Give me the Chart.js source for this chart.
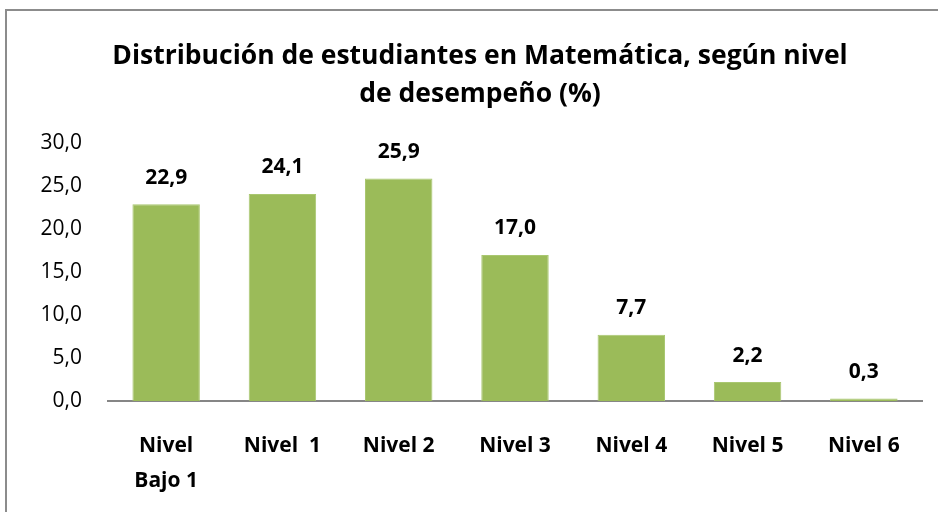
<!DOCTYPE html>
<html>
<head>
<meta charset="utf-8">
<script src="https://cdn.jsdelivr.net/npm/chart.js@4.4.1/dist/chart.umd.min.js"></script>
<style>
  html, body { margin: 0; padding: 0; background: #fff; }
  #wrap { position: relative; width: 938px; height: 512px; overflow: hidden; }
  #frame { position: absolute; left: 5px; top: 9px; width: 1000px; height: 600px;
           border-left: 2px solid #8c8c8c; border-top: 2px solid #8c8c8c; }
  canvas { position: absolute; left: 0; top: 0; }
</style>
</head>
<body>
<div id="wrap">
  <div id="frame"></div>
  <canvas id="chart" width="938" height="512"></canvas>
</div>
<script>
const niveles = [["Nivel", "Bajo 1"], "Nivel  1", "Nivel 2", "Nivel 3", "Nivel 4", "Nivel 5", "Nivel 6"];
const porcentajes = [22.9, 24.1, 25.9, 17.0, 7.7, 2.2, 0.3];
const tituloLineas = ["Distribución de estudiantes en Matemática, según nivel", "de desempeño (%)"];

const FONT = "'Open Sans', Lato, sans-serif";

function fmt(v)
{
  return v.toFixed(1).replace(".", ",");
}

// etiquetas de valor encima de cada barra
const barLabels = {
  id: "barLabels",
  afterDatasetsDraw(chart)
  {
    const ctx = chart.ctx;
    const meta = chart.getDatasetMeta(0);
    ctx.save();
    ctx.font = "bold 21px " + FONT;
    ctx.fillStyle = "#000";
    ctx.textAlign = "center";
    ctx.textBaseline = "bottom";
    meta.data.forEach((bar, i) =>
    {
      ctx.fillText(fmt(porcentajes[i]), bar.x, bar.y - 16);
    });
    ctx.restore();
  }
};

new Chart(document.getElementById("chart"),
{
  type: "bar",
  data:
  {
    labels: niveles,
    datasets: [
    {
      data: porcentajes,
      backgroundColor: "#9bbb59",
      borderColor: "#a9c770",
      borderWidth: 1,
      barPercentage: 0.58,
      categoryPercentage: 1
    }]
  },
  options:
  {
    responsive: false,
    animation: false,
    layout: { padding: { left: 38, right: 16, top: 28, bottom: 0 } },
    plugins:
    {
      legend: { display: false },
      tooltip: { enabled: false },
      title:
      {
        display: true,
        text: tituloLineas,
        color: "#000",
        font: { family: FONT, size: 26.5, weight: "bold", lineHeight: 1.42 },
        padding: { top: 10, bottom: 30 }
      }
    },
    scales:
    {
      x:
      {
        grid: { display: false, drawTicks: false },
        border: { display: true, color: "#868686", width: 2 },
        ticks:
        {
          color: "#000",
          font: { family: FONT, size: 21, weight: "bold", lineHeight: 1.68 },
          padding: 27,
          maxRotation: 0,
          autoSkip: false
        },
        afterFit(scale) { scale.height = 111; }
      },
      y:
      {
        min: 0,
        max: 30,
        grid: { display: false, drawTicks: false },
        border: { display: false },
        ticks:
        {
          stepSize: 5,
          color: "#000",
          font: { family: FONT, size: 21 },
          padding: 26,
          callback: v => fmt(v)
        },
        afterFit(scale) { scale.width = 70; }
      }
    }
  },
  plugins: [barLabels]
});
</script>
</body>
</html>
